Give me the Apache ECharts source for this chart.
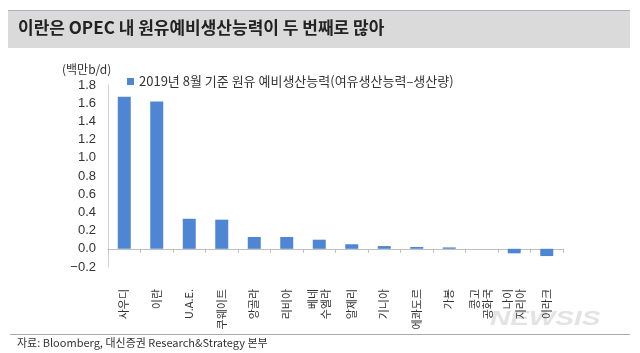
<!DOCTYPE html>
<html>
<head>
<meta charset="utf-8">
<script src="https://cdn.jsdelivr.net/npm/echarts@6/dist/echarts.min.js"></script>
<style>
  html, body { margin: 0; padding: 0; background: #fff; }
</style>
</head>
<body>
<div id="main" style="width: 640px;height: 353px"></div>

<script type="text/javascript">
    // 데이터
    var countries = ['사우디', '이란', 'U.A.E.', '쿠웨이트', '앙골라', '리비아', '베네\n수엘라',
        '알제리', '기니아', '에콰도르', '가봉', '콩고\n공화국', '나이\n지리아', '이라크'];
    var spareCapacity = [1.67, 1.62, 0.33, 0.32, 0.13, 0.13, 0.10, 0.05, 0.03, 0.02, 0.015, 0, -0.05, -0.08];
    var yTicks = ['-0.2', '0.0', '0.2', '0.4', '0.6', '0.8', '1.0', '1.2', '1.4', '1.6', '1.8'];

    var seriesName = '2019년 8월 기준 원유 예비생산능력(여유생산능력–생산량)';
    var font = "'Noto Sans CJK KR', 'Noto Sans', sans-serif";

    var myChart = echarts.init(document.getElementById('main'));

    var option = {
        backgroundColor: '#fff',
        textStyle: { fontFamily: font },
        animation: false,
        grid: { left: 108, right: 77, top: 85, bottom: 86 },
        legend: {
            data: [seriesName],
            left: 122,
            top: 70,
            icon: 'rect',
            itemWidth: 7,
            itemHeight: 7,
            itemGap: 4,
            textStyle: { fontSize: 13, color: '#333', fontFamily: font }
        },
        graphic: [
            // 워터마크 (맨 아래)
            { type: 'text', x: 490, y: 309, z: -10, scaleX: 1.4, style: { text: 'NEWSIS', fontSize: 20, fontWeight: 'bold', fontStyle: 'italic', fill: '#e3e3e3', fontFamily: 'Liberation Sans' } },
            // 제목 바
            { type: 'rect', left: 8, top: 10, shape: { width: 622, height: 38 }, style: { fill: '#dadada' } },
            { type: 'rect', left: 8, top: 10, shape: { width: 622, height: 1 }, style: { fill: '#a9b4c2' } },
            { type: 'text', left: 18, top: 19, style: { text: '이란은 OPEC 내 원유예비생산능력이 두 번째로 많아', fontSize: 17, fontWeight: 'bold', fill: '#222', fontFamily: font } },
            // 단위
            { type: 'text', left: 62, top: 63, style: { text: '(백만b/d)', fontSize: 12, fill: '#333', fontFamily: font } },
            // 출처
            { type: 'rect', left: 10, top: 334, shape: { width: 620, height: 1 }, style: { fill: '#aaa' } },
            { type: 'text', left: 17, top: 337, style: { text: '자료: Bloomberg, 대신증권 Research&Strategy 본부', fontSize: 11, fill: '#333', fontFamily: font } }
        ],
        xAxis: {
            type: 'category',
            data: countries,
            axisLine: { onZero: true, lineStyle: { color: '#bfbfbf' } },
            axisTick: { show: true, length: 4, lineStyle: { color: '#bfbfbf' } },
            axisLabel: {
                rotate: 90,
                margin: 22,
                fontSize: 11,
                lineHeight: 13,
                color: '#333',
                fontFamily: font
            }
        },
        yAxis: {
            type: 'value',
            min: -0.2,
            max: 1.8,
            interval: 0.2,
            axisLine: { show: true, lineStyle: { color: '#d0d0d0' } },
            axisTick: { show: false },
            splitLine: { show: false },
            axisLabel: {
                fontSize: 13,
                color: '#333',
                margin: 12,
                fontFamily: 'Liberation Sans',
                formatter: function (v) {
                    var idx = Math.round((v + 0.2) / 0.2);
                    return (yTicks[idx] || v.toFixed(1)).replace('-', '−');
                }
            }
        },
        series: [{
            name: seriesName,
            type: 'bar',
            data: spareCapacity,
            barWidth: 13,
            itemStyle: { color: '#4f86d3' }
        }]
    };

    myChart.setOption(option);
</script>
</body>
</html>
